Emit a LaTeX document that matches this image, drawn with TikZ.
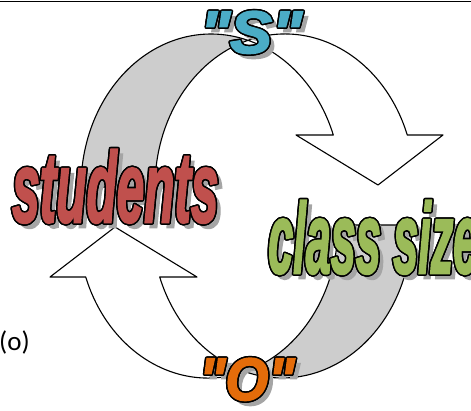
\documentclass[tikz,border=0pt]{standalone}
\usepackage{fontspec}
\usepackage{graphicx}
\newfontfamily\wafont{Liberation Sans}[BoldItalicFeatures={FakeBold=2.5}]
\newfontfamily\carlito{Carlito}
\usetikzlibrary{calc}
\definecolor{bandgray}{RGB}{205,205,205}
\definecolor{sblue}{RGB}{75,172,198}
\definecolor{sred}{RGB}{192,80,77}
\definecolor{sgreen}{RGB}{155,187,89}
\definecolor{sorange}{RGB}{228,108,10}
\definecolor{shadowgray}{RGB}{165,165,165}
\tikzset{
  band/.style={draw=black, line width=1.1pt, line join=round},
  wa/.style={inner sep=0pt, anchor=base west, font=\wafont\bfseries\itshape},
}
\newcommand\curvedarrow{%
  \path[band, fill=bandgray] (81,187)
    arc[start angle=180, end angle=73.46, x radius=130pt, y radius=153pt]
    arc[start angle=106.54, end angle=180, x radius=130pt, y radius=153pt] -- cycle;
  \path[band, fill=white] (248,40.3)
    arc[start angle=106.54, end angle=19.87, x radius=130pt, y radius=153pt]
    -- (443,135) -- (378,185) -- (296,135) -- (333.3,135)
    arc[start angle=19.87, end angle=73.46, x radius=130pt, y radius=153pt] -- cycle;
}
% #1 name, #2 position, #3 colour, #4 xscale, #5 font size, #6 text
\newcommand\wordart[6]{%
  \node[wa, text=shadowgray] at ($(#2)+(5,5)$) {\fontsize{#5}{#5}\selectfont\scalebox{#4}[1]{#6}};
  \foreach \a in {0,22.5,...,337.5}
    \node[wa, text=black, shift={(\a:1.5pt)}] at (#2) {\fontsize{#5}{#5}\selectfont\scalebox{#4}[1]{#6}};
  \node[wa, text=#3] (#1) at (#2) {\fontsize{#5}{#5}\selectfont\scalebox{#4}[1]{#6}};
}
\begin{document}
\begin{tikzpicture}[x=1pt, y=-1pt]
  \useasboundingbox (0,0) rectangle (471,410);
  \draw[line width=1.6pt] (0,1.5) -- (471,1.5);
  \curvedarrow
  \begin{scope}[rotate around={180:(246.5,206)}]
    \curvedarrow
  \end{scope}
  \node[anchor=base west, inner sep=0pt, font=\carlito\fontsize{27}{30}\selectfont] (o) at (-1,350) {(o)};
  \wordart{S}{200,53}{sblue}{1.05}{60}{"S"}
  \wordart{O}{199,400}{sorange}{0.92}{60}{"O"}
  \wordart{students}{12,222}{sred}{0.495}{100}{students}
  \wordart{classsize}{268,273}{sgreen}{0.45}{100}{class size}
\end{tikzpicture}
\end{document}
